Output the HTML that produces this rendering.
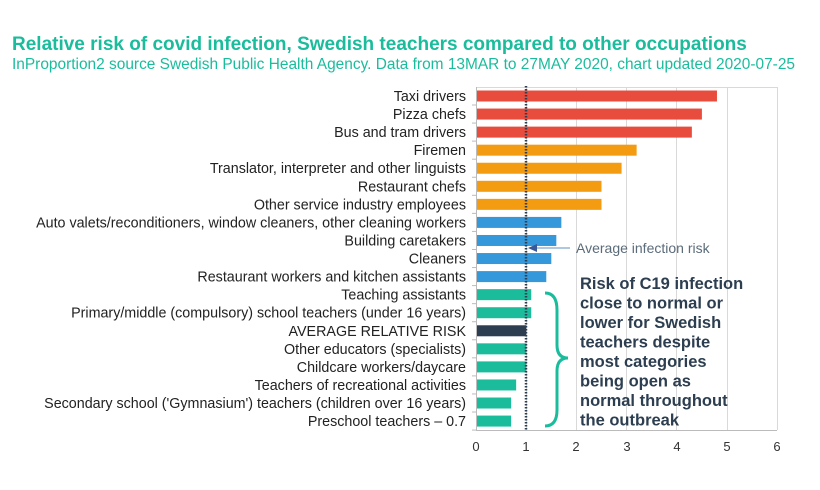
<!DOCTYPE html>
<html><head><meta charset="utf-8"><style>
body{margin:0;background:#fff;}
svg{display:block;font-family:"Liberation Sans",sans-serif;}
</style></head><body>
<svg width="820" height="490" viewBox="0 0 820 490">
<text x="12" y="50" font-size="19" font-weight="bold" fill="#1abc9c">Relative risk of covid infection, Swedish teachers compared to other occupations</text>
<text x="12" y="69" font-size="15.3" fill="#1abc9c" textLength="783" lengthAdjust="spacingAndGlyphs">InProportion2 source Swedish Public Health Agency. Data from 13MAR to 27MAY 2020, chart updated 2020-07-25</text>
<g stroke="#d9d9d9" stroke-width="1">
<line x1="526.5" y1="87" x2="526.5" y2="430"/><line x1="576.5" y1="87" x2="576.5" y2="430"/><line x1="626.5" y1="87" x2="626.5" y2="430"/><line x1="676.5" y1="87" x2="676.5" y2="430"/><line x1="727.5" y1="87" x2="727.5" y2="430"/><line x1="777.5" y1="87" x2="777.5" y2="430"/>
<line x1="476" y1="87.5" x2="777" y2="87.5"/>
</g>
<g stroke="#bbb"><line x1="476.5" y1="87" x2="476.5" y2="430"/><line x1="476" y1="430.5" x2="777" y2="430.5"/></g>
<g id="bars"></g>
<line x1="526" y1="86" x2="526" y2="430" stroke="#2c3e50" stroke-width="2.5" stroke-dasharray="1.5,1.5"/>
<g font-size="13" fill="#333" text-anchor="middle">
<text x="476" y="451">0</text><text x="526" y="451">1</text><text x="576" y="451">2</text><text x="627" y="451">3</text><text x="677" y="451">4</text><text x="727" y="451">5</text><text x="777" y="451">6</text>
</g>
<line x1="570" y1="248" x2="535" y2="248" stroke="#7fa7d0" stroke-width="1.2"/>
<polygon points="528,248 537,244 537,252" fill="#3b5998"/>
<text x="576" y="253" font-size="14" fill="#5a6b7a">Average infection risk</text>
<path d="M545,293 Q557,293 557,310 L557,345 Q557,358 568,358 Q557,358 557,371 L557,410 Q557,426 545,426" fill="none" stroke="#1abc9c" stroke-width="3"/>
<g font-size="16.5" font-weight="bold" fill="#2c3e50">
<text x="580" y="289">Risk of C19 infection</text>
<text x="580" y="308.5">close to normal or</text>
<text x="580" y="328">lower for Swedish</text>
<text x="580" y="347.5">teachers despite</text>
<text x="580" y="367">most categories</text>
<text x="580" y="386.5">being open as</text>
<text x="580" y="406">normal throughout</text>
<text x="580" y="425.5">the outbreak</text>
</g>
<g id="labels" font-size="14.3" fill="#222" text-anchor="end"></g>
<script>
var d=[["Taxi drivers",4.8,"#e74c3c"],["Pizza chefs",4.5,"#e74c3c"],["Bus and tram drivers",4.3,"#e74c3c"],["Firemen",3.2,"#f39c12"],["Translator, interpreter and other linguists",2.9,"#f39c12"],["Restaurant chefs",2.5,"#f39c12"],["Other service industry employees",2.5,"#f39c12"],["Auto valets/reconditioners, window cleaners, other cleaning workers",1.7,"#3498db"],["Building caretakers",1.6,"#3498db"],["Cleaners",1.5,"#3498db"],["Restaurant workers and kitchen assistants",1.4,"#3498db"],["Teaching assistants",1.1,"#1abc9c"],["Primary/middle (compulsory) school teachers (under 16 years)",1.1,"#1abc9c"],["AVERAGE RELATIVE RISK",1.0,"#2c3e50"],["Other educators (specialists)",1.0,"#1abc9c"],["Childcare workers/daycare",1.0,"#1abc9c"],["Teachers of recreational activities",0.8,"#1abc9c"],["Secondary school ('Gymnasium') teachers (children over 16 years)",0.7,"#1abc9c"],["Preschool teachers \u2013 0.7",0.7,"#1abc9c"]];
var ns="http://www.w3.org/2000/svg",b=document.getElementById("bars"),l=document.getElementById("labels");
d.forEach(function(r,i){var cy=96+i*18.06;
var e=document.createElementNS(ns,"rect");e.setAttribute("x",477);e.setAttribute("y",cy-5.5);e.setAttribute("height",11);e.setAttribute("width",r[1]*50.2-1);e.setAttribute("fill",r[2]);b.appendChild(e);
var t=document.createElementNS(ns,"text");t.setAttribute("x",466);t.setAttribute("y",cy+5);t.textContent=r[0];l.appendChild(t);
var k=document.createElementNS(ns,"line");k.setAttribute("x1",472);k.setAttribute("x2",476);k.setAttribute("y1",cy+9);k.setAttribute("y2",cy+9);k.setAttribute("stroke","#bbb");b.appendChild(k);});
</script>
</svg>
</body></html>
